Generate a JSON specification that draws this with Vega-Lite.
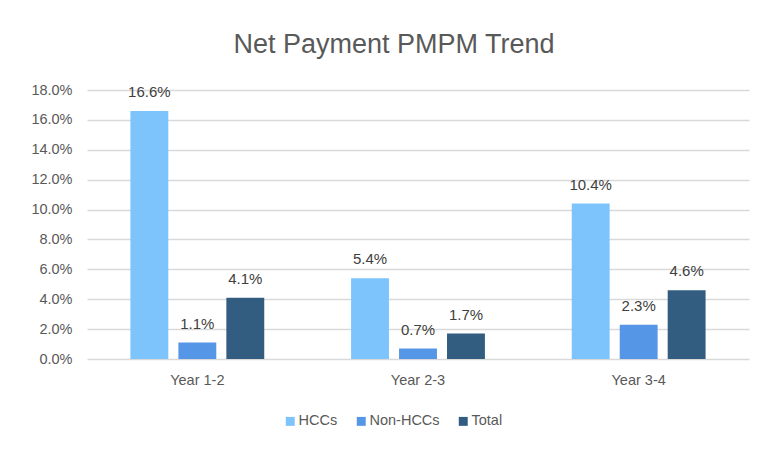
{
  "$schema": "https://vega.github.io/schema/vega-lite/v6.json",
  "width": 662,
  "height": 269,
  "autosize": {"type": "none"},
  "padding": {"left": 87, "top": 90, "right": 20, "bottom": 93},
  "background": "white",
  "title": {"text": "Net Payment PMPM Trend", "fontSize": 27, "font": "Liberation Sans", "fontWeight": "normal", "color": "#595959", "anchor": "middle", "dx": -24, "offset": 23},
  "config": {
    "view": {"stroke": null},
    "font": "Liberation Sans"
  },
  "data": {
    "values": [
      {"period": "Year 1-2", "group": "HCCs", "value": 0.166},
      {"period": "Year 1-2", "group": "Non-HCCs", "value": 0.011},
      {"period": "Year 1-2", "group": "Total", "value": 0.041},
      {"period": "Year 2-3", "group": "HCCs", "value": 0.054},
      {"period": "Year 2-3", "group": "Non-HCCs", "value": 0.007},
      {"period": "Year 2-3", "group": "Total", "value": 0.017},
      {"period": "Year 3-4", "group": "HCCs", "value": 0.104},
      {"period": "Year 3-4", "group": "Non-HCCs", "value": 0.023},
      {"period": "Year 3-4", "group": "Total", "value": 0.046}
    ]
  },
  "encoding": {
    "x": {"field": "period", "type": "nominal", "title": null,
      "scale": {"paddingInner": 0.35, "paddingOuter": 0.175},
      "axis": {"labelAngle": 0, "ticks": false, "domain": false, "labelFontSize": 14.5, "labelColor": "#595959", "labelPadding": 14}},
    "xOffset": {"field": "group", "type": "nominal", "sort": ["HCCs", "Non-HCCs", "Total"], "scale": {"paddingInner": 0.21, "paddingOuter": 0.1}},
    "y": {"field": "value", "type": "quantitative", "title": null,
      "scale": {"domain": [0, 0.18], "nice": false},
      "axis": {"format": ".1%", "values": [0, 0.02, 0.04, 0.06, 0.08, 0.1, 0.12, 0.14, 0.16, 0.18], "ticks": false, "domain": false, "gridColor": "#d9d9d9", "gridWidth": 1.3, "labelFontSize": 14.5, "labelColor": "#595959", "labelPadding": 15}}
  },
  "layer": [
    {
      "mark": {"type": "bar"},
      "encoding": {
        "color": {"field": "group", "type": "nominal",
          "scale": {"domain": ["HCCs", "Non-HCCs", "Total"], "range": ["#7dc4fd", "#5596e6", "#325d80"]},
          "legend": {"title": null, "orient": "none", "direction": "horizontal", "legendX": 196, "legendY": 324, "symbolType": "square", "symbolSize": 80, "symbolStrokeWidth": 0, "labelFontSize": 14.5, "labelColor": "#595959", "labelOffset": 1, "columnPadding": 16}}
      }
    },
    {
      "mark": {"type": "text", "baseline": "bottom", "dy": -11, "fontSize": 15, "color": "#404040"},
      "encoding": {"text": {"field": "value", "type": "quantitative", "format": ".1%"}}
    }
  ]
}
